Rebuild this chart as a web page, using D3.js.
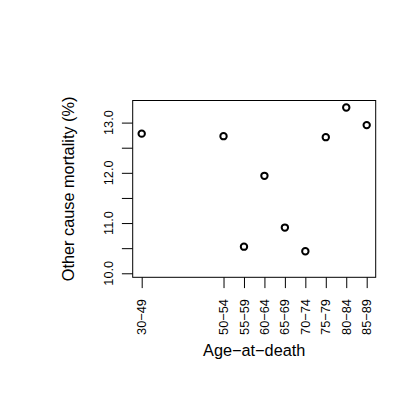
<!DOCTYPE html>
<html><head><meta charset="utf-8">
<script src="https://cdn.jsdelivr.net/npm/d3@7"></script>
<style>body{margin:0;background:#fff}text{font-family:"Liberation Sans",Arial,sans-serif;fill:#000}</style>
</head><body><svg id="c" width="415" height="419"></svg>
<script>
const categories = ["30−49","50−54","55−59","60−64","65−69","70−74","75−79","80−84","85−89"];
const agePositions = [30,50,55,60,65,70,75,80,85];
const mortality = [12.78,12.73,10.53,11.94,10.91,10.44,12.71,13.30,12.95];
const yTicks = [10,10.5,11,11.5,12,12.5,13];
const yTickLabels = ["10.0","11.0","12.0","13.0"];

const L=132.7,R=375.7,T=100.5,B=277.3;
const svg=d3.select("#c");
const x=d3.scaleLinear().domain([27.8,87.2]).range([L,R]);
const y=d3.scaleLinear().domain([9.92,13.44]).range([B,T]);
const tl=10.8;

// x axis
const xa=svg.append("g").attr("transform",`translate(0,${B})`)
 .call(d3.axisBottom(x).tickValues(agePositions).tickSize(tl).tickFormat(""));
xa.select(".domain").remove();
xa.selectAll("line").attr("stroke","#000").attr("stroke-width",1);
agePositions.forEach((a,i)=>{
  svg.append("text").attr("transform",`translate(${x(a)+4.6},299) rotate(-90)`)
   .attr("text-anchor","end").style("font-size","12.8px").text(categories[i]);
});
// y axis
const ya=svg.append("g").attr("transform",`translate(${L},0)`)
 .call(d3.axisLeft(y).tickValues(yTicks).tickSize(tl).tickFormat(""));
ya.select(".domain").remove();
ya.selectAll("line").attr("stroke","#000").attr("stroke-width",1);
yTickLabels.forEach(s=>{
  svg.append("text").attr("transform",`translate(113,${y(+s)}) rotate(-90)`)
   .attr("text-anchor","middle").style("font-size","12.8px").text(s);
});
// box
svg.append("rect").attr("x",L).attr("y",T).attr("width",R-L).attr("height",B-T)
 .attr("fill","none").attr("stroke","#000").attr("stroke-width",1);
// points
svg.selectAll("circle.p").data(mortality).enter().append("circle")
 .attr("cx",(d,i)=>x(agePositions[i])).attr("cy",d=>y(d)).attr("r",3.2)
 .attr("fill","none").attr("stroke","#000").attr("stroke-width",2);
// titles
svg.append("text").attr("x",(L+R)/2).attr("y",356).attr("text-anchor","middle")
 .style("font-size","16.3px").text("Age−at−death");
svg.append("text").attr("transform",`translate(74,${(T+B)/2}) rotate(-90)`)
 .attr("text-anchor","middle").style("font-size","16.3px").text("Other cause mortality (%)");
</script></body></html>
